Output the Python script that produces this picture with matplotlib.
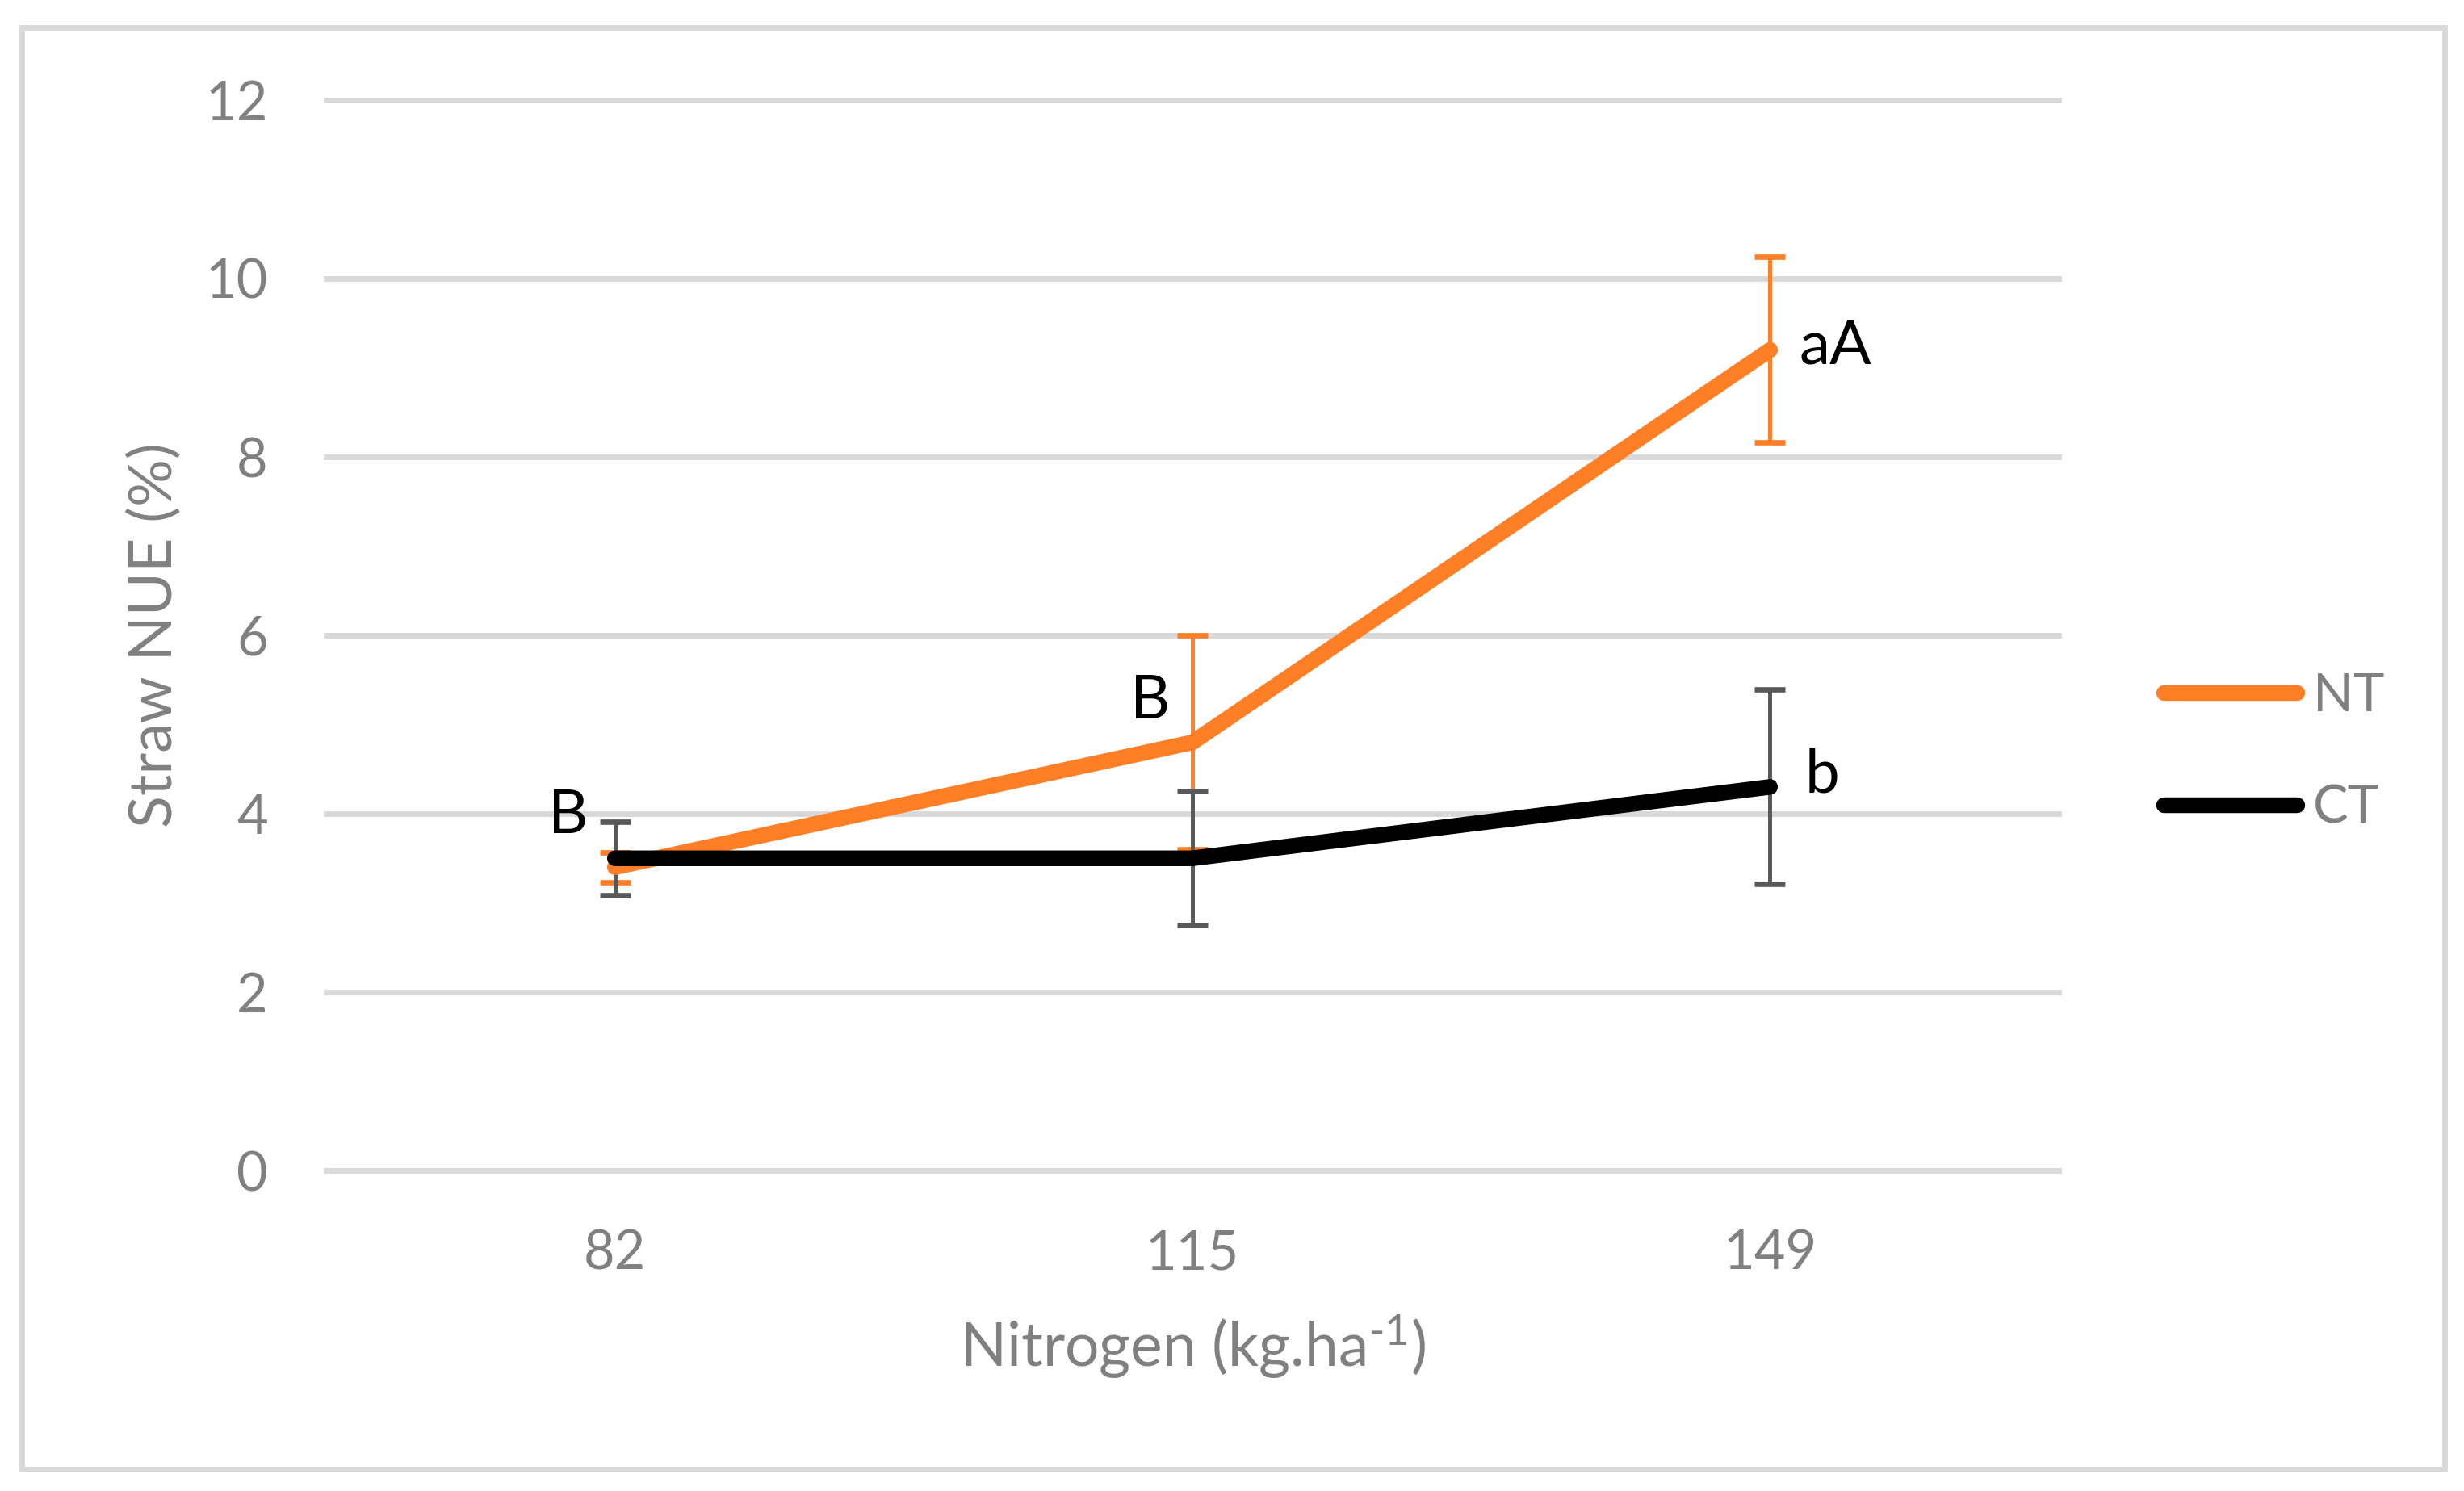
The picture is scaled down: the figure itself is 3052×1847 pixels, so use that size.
import matplotlib
matplotlib.use('Agg')
import matplotlib.pyplot as plt
from matplotlib.patches import Rectangle

# data
nitrogen = ['82', '115', '149']
nt_values = [3.4, 4.8, 9.2]
nt_errors = [0.17, 1.2, 1.04]
ct_values = [3.5, 3.5, 4.3]
ct_errors = [0.41, 0.75, 1.09]
nt_letters = ['B', 'B', 'aA']
ct_letters = ['', '', 'b']
yticks = [0, 2, 4, 6, 8, 10, 12]

ORANGE = '#FF7F27'
GRAY_TXT = '#808080'
GRID = '#D9D9D9'

plt.rcParams['font.family'] = ['Lato', 'DejaVu Sans']
plt.rcParams['mathtext.fontset'] = 'custom'
plt.rcParams['mathtext.rm'] = 'Lato'
plt.rcParams['mathtext.it'] = 'Lato'
plt.rcParams['mathtext.bf'] = 'Lato'

W, H = 3052, 1847
fig = plt.figure(figsize=(W / 100, H / 100), dpi=100)
ax = fig.add_axes([404 / W, 1 - 1450 / H, (2550 - 404) / W, (1450 - 124) / H])

x = list(range(len(nitrogen)))

# error bars first, lines on top
ax.errorbar(x, nt_values, yerr=nt_errors, fmt='none', ecolor=ORANGE,
            elinewidth=3.6, capsize=13.5, capthick=4.8, zorder=2)
ax.errorbar(x, ct_values, yerr=ct_errors, fmt='none', ecolor='#595959',
            elinewidth=3.6, capsize=13.5, capthick=4.8, zorder=3)
ax.plot(x, nt_values, color=ORANGE, lw=14, solid_capstyle='round',
        solid_joinstyle='miter', label='NT', zorder=4)
ax.plot(x, ct_values, color='black', lw=14, solid_capstyle='round',
        solid_joinstyle='miter', label='CT', zorder=5)

# significance letters (offsets in pixels)
nt_offsets = [(-58, 42, 'center'), (-52, 30, 'center'), (36, -17, 'left')]
for i, (lab, off) in enumerate(zip(nt_letters, nt_offsets)):
    ax.annotate(lab, (x[i], nt_values[i]), xytext=(off[0], off[1]),
                textcoords='offset pixels', ha=off[2], va='baseline',
                fontsize=55, color='black', zorder=6)
for i, lab in enumerate(ct_letters):
    if lab:
        ax.annotate(lab, (x[i], ct_values[i]), xytext=(43, -7),
                    textcoords='offset pixels', ha='left', va='baseline',
                    fontsize=55, color='black', zorder=6)

ax.set_xlim(-0.5, len(nitrogen) - 0.5)
ax.set_ylim(0, 12)
ax.set_xticks(x)
ax.set_xticklabels(nitrogen)
ax.set_yticks(yticks)
ax.tick_params(length=0, labelsize=48, labelcolor=GRAY_TXT, pad=52)

ax.grid(axis='y', color=GRID, lw=5)
ax.set_axisbelow(True)
for gl in ax.get_ygridlines():
    gl.set_clip_on(False)
for sp in ax.spines.values():
    sp.set_visible(False)

ax.set_xlabel(r'Nitrogen (kg.ha$^{\text{-}1}$)', fontsize=54, color=GRAY_TXT)
ax.xaxis.set_label_coords(0.5, -0.133)
ax.set_ylabel('Straw NUE (%)', fontsize=53, color=GRAY_TXT)
ax.yaxis.set_label_coords(-0.083, 0.5)

leg = ax.legend(loc='center left', bbox_to_anchor=(2680 / W, 1 - 932 / H),
                bbox_transform=fig.transFigure, frameon=False, fontsize=47,
                handlelength=2.53, handletextpad=0.3, labelspacing=1.22,
                borderpad=0, borderaxespad=0)
for t in leg.get_texts():
    t.set_color(GRAY_TXT)
for ln in leg.get_lines():
    ln.set_solid_capstyle('round')

# outer chart border
fig.patches.append(Rectangle((27.5 / W, 1 - 1820 / H), (3028 - 27.5) / W,
                             (1820 - 34) / H, transform=fig.transFigure,
                             fill=False, edgecolor=GRID, lw=5))

fig.savefig('out.png', dpi=100, facecolor='white')
